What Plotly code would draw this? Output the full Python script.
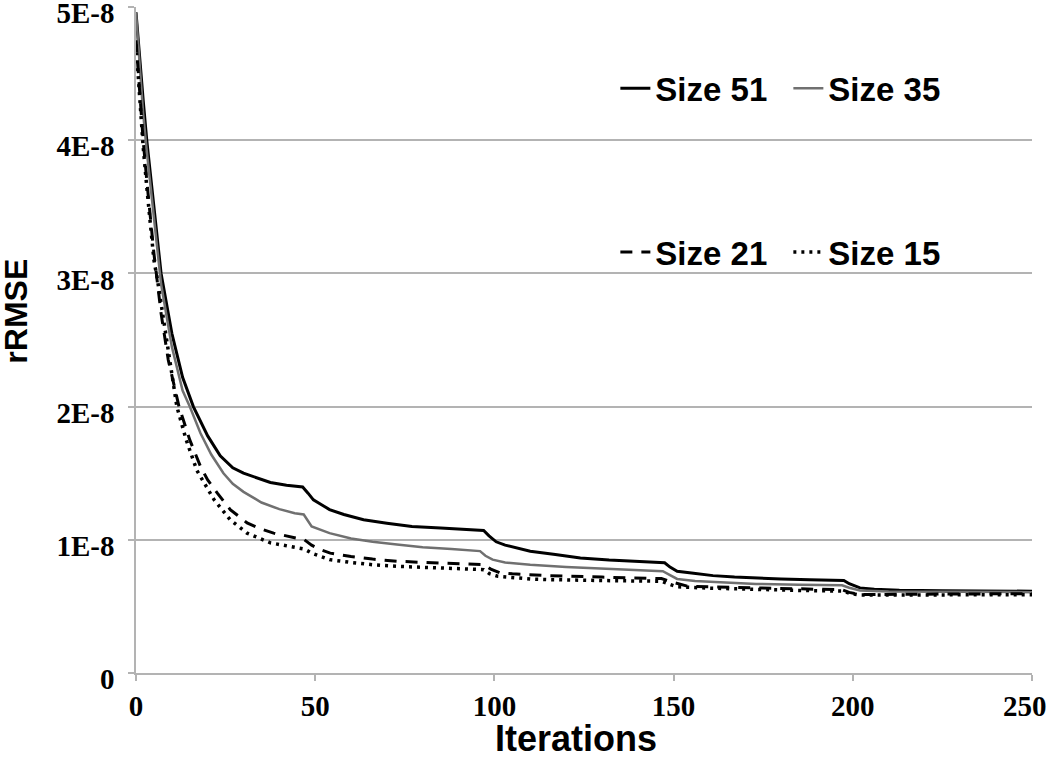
import plotly.graph_objects as go

# ---- data (values in units of 1E-8) ----
x51 = [0, 1, 2, 3, 5, 7, 10, 13, 16, 20, 23.5, 27, 30, 34, 37.5, 42, 46.5, 48, 49.5, 52, 54, 58, 63.5, 70, 77, 85, 92, 97,
       98.5, 100.5, 103, 106, 110, 117, 124, 132, 140, 147.5, 149, 151, 155, 161, 167, 173, 180, 188, 197.5, 199, 202, 206,
       213, 225, 237, 250]
y51 = [4.96, 4.6, 4.3, 4.0, 3.5, 3.0, 2.55, 2.22, 2.0, 1.78, 1.63, 1.54, 1.5, 1.46, 1.43, 1.41, 1.397, 1.35, 1.3, 1.26,
       1.227, 1.19, 1.151, 1.125, 1.1, 1.088, 1.078, 1.07, 1.03, 0.985, 0.96, 0.94, 0.914, 0.89, 0.864, 0.848, 0.836, 0.827,
       0.795, 0.764, 0.75, 0.731, 0.72, 0.711, 0.705, 0.7, 0.694, 0.67, 0.639, 0.628, 0.621, 0.618, 0.616, 0.614]

x35 = [0, 1, 2, 3, 5, 7, 10, 13, 15, 18, 21, 24.4, 27, 30, 35, 40, 44.3, 46.8, 49, 54, 60, 66, 72.8, 80, 88, 96, 97.5, 99.5,
       103, 110, 120, 130, 140, 147, 149, 151, 156, 165, 173, 185, 197, 199, 202, 210, 225, 250]
y35 = [4.96, 4.55, 4.2, 3.92, 3.4, 2.92, 2.45, 2.12, 2.0, 1.8, 1.64, 1.5, 1.42, 1.36, 1.28, 1.23, 1.2, 1.19, 1.1, 1.05,
       1.01, 0.985, 0.964, 0.945, 0.93, 0.915, 0.88, 0.851, 0.83, 0.812, 0.795, 0.783, 0.772, 0.764, 0.735, 0.706, 0.69,
       0.678, 0.669, 0.663, 0.658, 0.64, 0.62, 0.612, 0.61, 0.607]

x21 = [0, 1, 2, 3, 5, 7, 9, 12, 15, 18, 20, 22.7, 26.3, 31, 35, 38.4, 44.9, 47, 49, 51.5, 54.2, 60, 66, 72.8, 85, 97, 99,
       101.5, 105, 115, 130, 146.6, 150, 154, 162, 170, 185, 197, 199, 202, 215, 250]
y21 = [4.75, 4.35, 4.0, 3.7, 3.15, 2.7, 2.35, 2.0, 1.75, 1.55, 1.45, 1.35, 1.227, 1.127, 1.08, 1.05, 1.014, 1.0, 0.96,
       0.926, 0.9, 0.875, 0.855, 0.839, 0.825, 0.814, 0.78, 0.752, 0.745, 0.731, 0.72, 0.709, 0.68, 0.651, 0.645, 0.639,
       0.632, 0.625, 0.605, 0.589, 0.592, 0.596]

x15 = [0, 1, 2, 3, 5, 6, 8, 11.4, 14, 17, 21.8, 26.3, 31, 37.5, 45, 47, 49, 54, 60, 66, 72.8, 85, 97, 98.6, 101, 110, 115,
       130, 146.6, 149, 151, 160, 173, 185, 197, 199, 202, 215, 250]
y15 = [4.72, 4.3, 3.95, 3.65, 3.1, 2.95, 2.6, 2.0, 1.75, 1.52, 1.3, 1.15, 1.05, 0.977, 0.94, 0.93, 0.9, 0.851, 0.83,
       0.813, 0.801, 0.788, 0.776, 0.746, 0.726, 0.706, 0.701, 0.694, 0.689, 0.665, 0.647, 0.637, 0.626, 0.62, 0.615, 0.6,
       0.585, 0.586, 0.588]

y_tickvals = [0, 1e-8, 2e-8, 3e-8, 4e-8, 5e-8]
y_ticktext = ["0", "1E-8", "2E-8", "3E-8", "4E-8", "5E-8"]
x_tickvals = [0, 50, 100, 150, 200, 250]
x_ticktext = ["0", "50", "100", "150", "200", "250\u2007"]

SCALE = 1e-8

fig = go.Figure()
fig.add_trace(go.Scatter(x=x51, y=[v * SCALE for v in y51], mode="lines", name="Size 51",
                         line=dict(color="#000000", width=3), legend="legend"))
fig.add_trace(go.Scatter(x=x35, y=[v * SCALE for v in y35], mode="lines", name="Size 35",
                         line=dict(color="#707070", width=2.5), legend="legend"))
fig.add_trace(go.Scatter(x=x21, y=[v * SCALE for v in y21], mode="lines", name="Size 21",
                         line=dict(color="#000000", width=3, dash="12px,9px"), legend="legend2"))
fig.add_trace(go.Scatter(x=x15, y=[v * SCALE for v in y15], mode="lines", name="Size 15",
                         line=dict(color="#000000", width=3.5, dash="3px,5px"), legend="legend2"))

tickfont = dict(family="Liberation Serif", size=29, color="#000000", weight="bold")
legfont = dict(family="Liberation Sans", size=33, color="#000000", weight="bold")

fig.update_layout(
    width=1050, height=758,
    margin=dict(l=136, r=18, t=7, b=85, autoexpand=False),
    paper_bgcolor="white", plot_bgcolor="white",
    showlegend=True,
    legend=dict(orientation="h", x=0.535, y=0.878, xanchor="left", yanchor="middle",
                font=legfont, bgcolor="rgba(0,0,0,0)", itemwidth=30, traceorder="normal",
                entrywidth=128),
    legend2=dict(orientation="h", x=0.535, y=0.632, xanchor="left", yanchor="middle",
                 font=legfont, bgcolor="rgba(0,0,0,0)", itemwidth=30, traceorder="normal",
                 entrywidth=128),
    xaxis=dict(range=[0, 250], tickvals=x_tickvals, ticktext=x_ticktext, tickfont=tickfont, showgrid=False,
               showline=True, linecolor="#b3b3b3", linewidth=1.5, ticks="outside", ticklen=6,
               tickcolor="#b3b3b3", tickwidth=1.5, zeroline=False, automargin=False,
               ticklabeloverflow="allow"),
    yaxis=dict(range=[0, 5e-8], tickvals=y_tickvals, ticktext=y_ticktext, tickfont=tickfont,
               showgrid=True, gridcolor="#b3b3b3", gridwidth=1.5,
               showline=True, linecolor="#b3b3b3", linewidth=1.5, ticks="outside", ticklen=6,
               tickcolor="#b3b3b3", tickwidth=1.5, zeroline=False, automargin=False,
               ticklabeloverflow="allow", ticklabelstandoff=8, ticklabelshift=6),
    annotations=[
        dict(text="Iterations", x=0.491, y=-0.099, xref="paper", yref="paper", showarrow=False,
             xanchor="center", yanchor="middle",
             font=dict(family="Liberation Sans", size=36, color="#000000", weight="bold")),
        dict(text="rRMSE", x=-0.134, y=0.544, xref="paper", yref="paper", showarrow=False,
             xanchor="center", yanchor="middle", textangle=-90,
             font=dict(family="Liberation Sans", size=32, color="#000000", weight="bold")),
    ],
)

fig.write_html("out.html", config={"displayModeBar": False},
               post_script="document.body.style.margin='0px';")
